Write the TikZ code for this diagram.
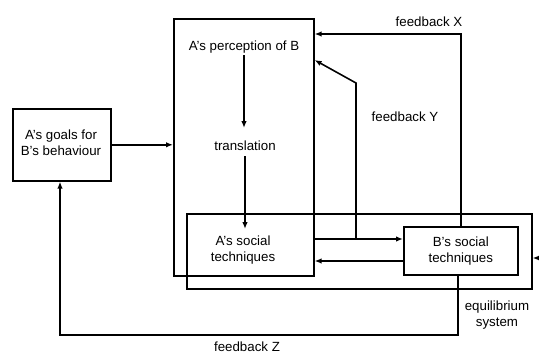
\documentclass[tikz,border=0pt]{standalone}
\usepackage{fontspec}
\setmainfont{Liberation Sans}
\usetikzlibrary{arrows.meta}
\begin{document}
\begin{tikzpicture}[x=1pt,y=-1pt,
  every node/.style={font=\fontsize{13.3}{16}\selectfont, inner sep=0pt, align=center},
  boxx/.style={draw, line width=1.6pt, anchor=north west, inner sep=0pt},
  conn/.style={line width=1.6pt},
  arr/.style={conn, -{Latex[length=7pt,width=5.5pt]}}]
\useasboundingbox (0,0) rectangle (539,356);
% boxes
\node[boxx, minimum width=140pt, minimum height=257pt] (Abox) at (173,18) {};
\node[boxx, minimum width=98pt, minimum height=72pt] (goals) at (12,108) {};
\node at (61,143) {A's goals for\\B's behaviour};
\node[boxx, minimum width=345pt, minimum height=75pt] (eq) at (186,213) {};
\node[boxx, minimum width=114pt, minimum height=48pt] (Bbox) at (403,226) {};
\node at (Bbox.center) {B's social\\techniques};
% texts
\node (perc) at (244,47) {A's perception of B};
\node (trans) at (245,146) {translation};
\node (Asoc) at (243,250) {A's social\\techniques};
\node (lx) at (429,22) {feedback X};
\node (ly) at (405,117) {feedback Y};
\node (lz) at (247,347) {feedback Z};
\node (leq) at (497,315) {equilibrium\\system};
% connectors
\draw[arr] (goals.east) -- (Abox.west |- goals.east);
\draw[arr] (perc.south) ++(0,2) coordinate (p1) -- (p1 |- 0,128);
\draw[arr] (trans.south) ++(0,5) coordinate (t1) -- (t1 |- 0,229);
\coordinate (ab1) at (Abox.east |- 0,239);
\draw[arr] (ab1) -- (Bbox.west |- ab1);
\coordinate (ba1) at (Bbox.west |- 0,261);
\draw[arr] (ba1) -- (Abox.east |- ba1);
\coordinate (fy0) at (356,239);
\coordinate (fy1) at (356,83);
\coordinate (fy2) at (Abox.east |- 0,60);
\draw[arr] (fy0) -- (fy1) -- (fy2);
\coordinate (fx0) at (Bbox.north -| 461,0);
\coordinate (fx1) at (461,34);
\draw[arr] (fx0) -- (fx1) -- (Abox.east |- fx1);
\coordinate (fz0) at (Bbox.south -| 458,0);
\coordinate (fz1) at (458,335);
\coordinate (fz2) at (60,335);
\draw[arr] (fz0) -- (fz1) -- (fz2) -- (goals.south -| fz2);
\coordinate (edge) at (542,258);
\draw[arr] (edge) -- (eq.east |- edge);
\end{tikzpicture}
\end{document}
